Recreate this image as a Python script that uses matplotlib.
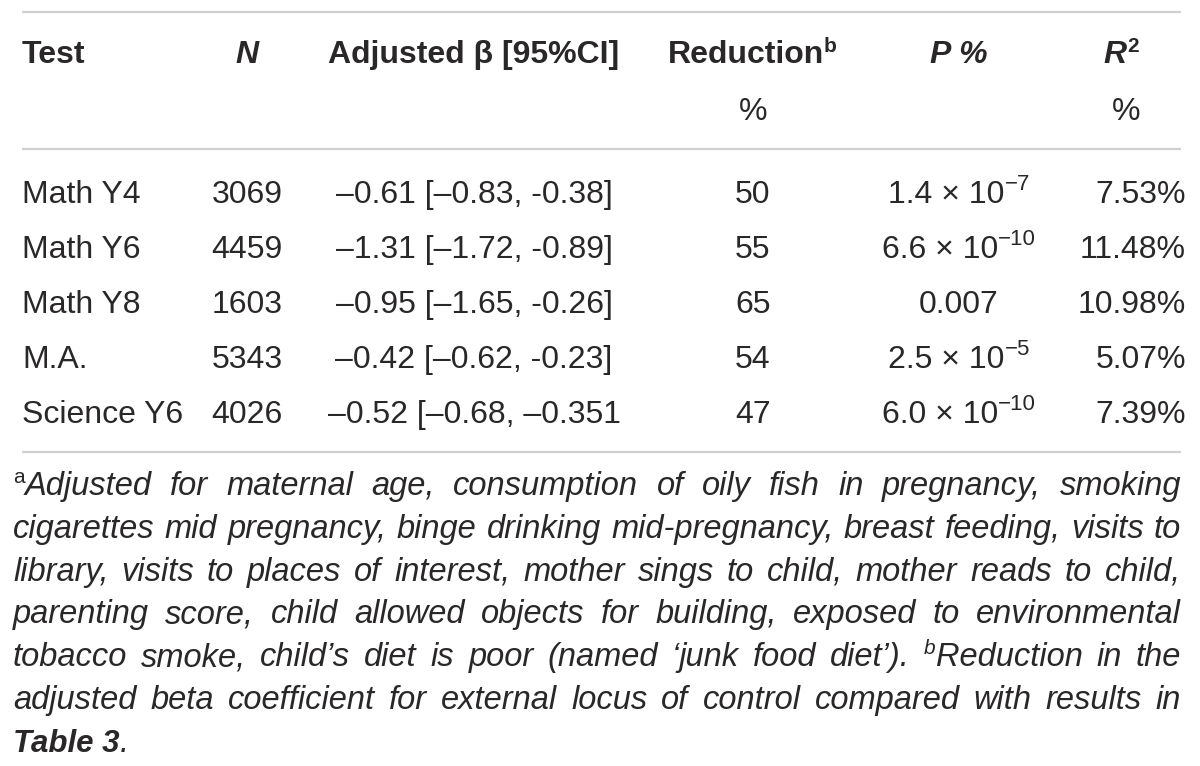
#!/usr/bin/env python3

import matplotlib

matplotlib.use("Agg")
import matplotlib.pyplot as plt

# table content
tests = ["Math Y4", "Math Y6", "Math Y8", "M.A.", "Science Y6"]
n_values = [3069, 4459, 1603, 5343, 4026]
beta_ci = [
    "–0.61 [–0.83, -0.38]",
    "–1.31 [–1.72, -0.89]",
    "–0.95 [–1.65, -0.26]",
    "–0.42 [–0.62, -0.23]",
    "–0.52 [–0.68, –0.351",
]
reductions = [50, 55, 65, 54, 47]
p_mantissa = ["1.4", "6.6", "0.007", "2.5", "6.0"]
p_exponent = ["−7", "−10", None, "−5", "−10"]
r2_values = [7.53, 11.48, 10.98, 5.07, 7.39]

footnote_lines = [
    "@a Adjusted for maternal age, consumption of oily fish in pregnancy, smoking",
    "cigarettes mid pregnancy, binge drinking mid-pregnancy, breast feeding, visits to",
    "library, visits to places of interest, mother sings to child, mother reads to child,",
    "parenting score, child allowed objects for building, exposed to environmental",
    "tobacco smoke, child’s diet is poor (named ‘junk food diet’). @b Reduction in the",
    "adjusted beta coefficient for external locus of control compared with results in",
]

TEXT = "#2a2728"
RULE = "#d0d0d0"
FS = 23
FS_NOTE = 23.5
FONT = "Liberation Sans"


def draw_runs(ax, rend, x, y, runs, ha="left"):
    texts = []
    for s, kw, dy in runs:
        t = ax.text(0, y - dy, s, va="baseline", ha="left", family=FONT,
                    color=TEXT, **kw)
        texts.append(t)
    widths = [t.get_window_extent(rend).width for t in texts]
    total = sum(widths)
    if ha == "center":
        x0 = x - total / 2
    elif ha == "right":
        x0 = x - total
    else:
        x0 = x
    for t, w in zip(texts, widths):
        t.set_x(x0)
        x0 += w
    return texts, total


def word_runs(word):
    if word == "@a":
        return [("a", dict(fontsize=15), 12)]
    if word == "@b":
        return [("b", dict(fontsize=15, fontstyle="italic"), 12)]
    return [(word, dict(fontsize=FS_NOTE, fontstyle="italic"), 0)]


def main():
    fig = plt.figure(figsize=(12, 7.66), dpi=100)
    ax = fig.add_axes([0, 0, 1, 1])
    ax.set_xlim(0, 1200)
    ax.set_ylim(766, 0)
    ax.axis("off")
    rend = fig.canvas.get_renderer()

    # rules
    for yy in (12, 149, 452):
        ax.plot([22, 1181], [yy, yy], color=RULE, lw=1.6, solid_capstyle="butt")

    bold = dict(fontsize=FS, fontweight="bold")
    bold_it = dict(fontsize=FS, fontweight="bold", fontstyle="italic")
    reg = dict(fontsize=FS)

    # header
    draw_runs(ax, rend, 22, 63, [("Test", bold, 0)])
    draw_runs(ax, rend, 247, 63, [("N", bold_it, 0)], ha="center")
    draw_runs(ax, rend, 474, 63, [("Adjusted β [95%CI]", bold, 0)], ha="center")
    draw_runs(ax, rend, 752, 63,
              [("Reduction", bold, 0), ("b", dict(fontsize=15, fontweight="bold"), 11)],
              ha="center")
    draw_runs(ax, rend, 959, 63, [("P %", bold_it, 0)], ha="center")
    draw_runs(ax, rend, 1121, 63,
              [("R", bold_it, 0), ("2", dict(fontsize=15, fontweight="bold"), 11)],
              ha="center")
    draw_runs(ax, rend, 753, 120, [("%", reg, 0)], ha="center")
    draw_runs(ax, rend, 1126, 120, [("%", reg, 0)], ha="center")

    # body rows
    sup = dict(fontsize=16)
    for i, name in enumerate(tests):
        y = 203 + 55 * i
        draw_runs(ax, rend, 22, y, [(name, reg, 0)])
        draw_runs(ax, rend, 247, y, [(str(n_values[i]), reg, 0)], ha="center")
        draw_runs(ax, rend, 474, y, [(beta_ci[i], reg, 0)], ha="center")
        draw_runs(ax, rend, 753, y, [(str(reductions[i]), reg, 0)], ha="center")
        if p_exponent[i] is None:
            runs = [(p_mantissa[i], reg, 0)]
        else:
            runs = [(p_mantissa[i] + " × 10", reg, 0), (p_exponent[i], sup, 13)]
        draw_runs(ax, rend, 959, y, runs, ha="center")
        draw_runs(ax, rend, 1186, y, [(f"{r2_values[i]:.2f}%", reg, 0)], ha="right")

    # justified footnote
    left, right = 13, 1181
    for k, line in enumerate(footnote_lines):
        y = 495 + 42.8 * k
        groups = []
        glue = False
        for w in line.split(" "):
            if glue:
                groups[-1] = groups[-1] + word_runs(w)
            else:
                groups.append(word_runs(w))
            glue = w.startswith("@")
        placed = [draw_runs(ax, rend, 0, y, g) for g in groups]
        total = sum(w for _, w in placed)
        gap = (right - left - total) / (len(placed) - 1)
        x = left
        for texts, width in placed:
            for t in texts:
                t.set_x(t.get_position()[0] + x)
            x += width + gap

    draw_runs(ax, rend, 13, 495 + 42.8 * 6,
              [("Table 3", dict(fontsize=FS_NOTE - 1, fontweight="bold",
                                fontstyle="italic"), 0),
               (".", dict(fontsize=FS_NOTE, fontstyle="italic"), 0)])

    fig.savefig("out.png", dpi=100)


if __name__ == "__main__":
    main()
